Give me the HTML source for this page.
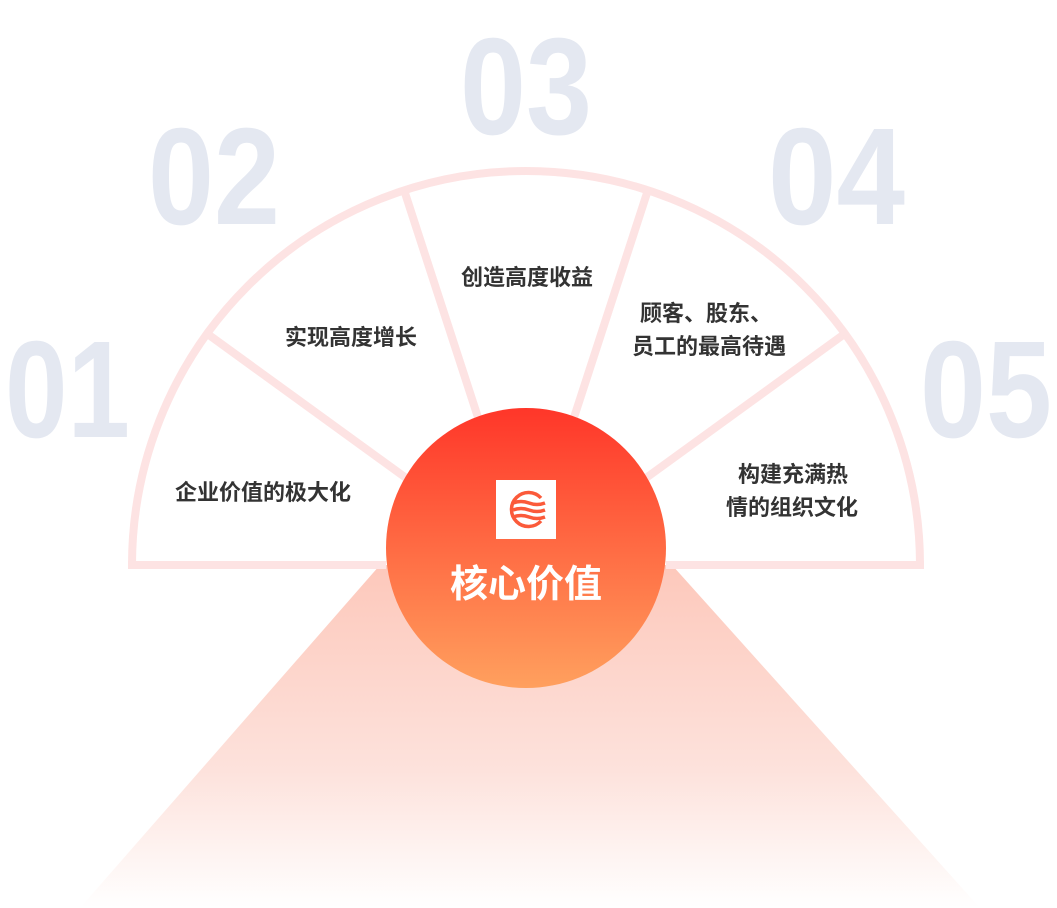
<!DOCTYPE html>
<html><head><meta charset="utf-8"><style>
html,body{margin:0;padding:0;background:#fff;width:1057px;height:908px;overflow:hidden}
</style></head><body>
<svg width="1057" height="908" viewBox="0 0 1057 908" xmlns="http://www.w3.org/2000/svg">
<defs>
<linearGradient id="cg" x1="0" y1="0" x2="0" y2="1">
<stop offset="0" stop-color="#ff3629"/><stop offset="1" stop-color="#ffa05e"/>
</linearGradient>
<linearGradient id="tg" x1="0" y1="0" x2="0" y2="1">
<stop offset="0" stop-color="#fdc8bb"/><stop offset="0.6" stop-color="#fde2dc"/><stop offset="1" stop-color="#ffffff"/>
</linearGradient>
</defs>
<g font-family="Liberation Sans, DejaVu Sans, sans-serif" font-weight="bold" fill="#e4e8f1" font-size="138">
<text x="5" y="437" textLength="125" lengthAdjust="spacingAndGlyphs">01</text>
<text x="148" y="224" textLength="132" lengthAdjust="spacingAndGlyphs">02</text>
<text x="460" y="134" textLength="132" lengthAdjust="spacingAndGlyphs">03</text>
<text x="768" y="224" textLength="137" lengthAdjust="spacingAndGlyphs">04</text>
<text x="920" y="437" textLength="132" lengthAdjust="spacingAndGlyphs">05</text>
</g>
<polygon points="380,565 672,565 980,908 80,908" fill="url(#tg)"/>
<g stroke="#fde3e3" stroke-width="8" fill="none">
<path d="M132,565 A394,394 0 0 1 920,565"/>
<line x1="128" y1="565" x2="386" y2="565"/>
<line x1="666" y1="565" x2="924" y2="565"/>
<line x1="526" y1="565" x2="209" y2="335"/>
<line x1="526" y1="565" x2="405" y2="193"/>
<line x1="526" y1="565" x2="647" y2="193"/>
<line x1="526" y1="565" x2="843" y2="335"/>
</g>
<circle cx="526" cy="548" r="140" fill="url(#cg)"/>
<rect x="496" y="480" width="60" height="59" fill="#fff"/>
<g fill="none" stroke="#fb5a3a" stroke-width="3.5">
<path d="M541,498 A17,17 0 1 0 541,521"/>
<path d="M513,503 q8,-3 16,0 t16,0"/>
<path d="M513,510 q8,-3 16,0 t16,0"/>
<path d="M513,517 q8,-3 16,0 t16,0"/>
</g>
<text x="526" y="597" text-anchor="middle" font-family="Liberation Sans, Noto Sans CJK SC, sans-serif" font-weight="bold" font-size="38" fill="#fff">核心价值</text>
<g font-family="Liberation Sans, Noto Sans CJK SC, sans-serif" font-weight="bold" font-size="22" fill="#333" text-anchor="middle">
<text x="263" y="500">企业价值的极大化</text>
<text x="351" y="345">实现高度增长</text>
<text x="527" y="285">创造高度收益</text>
<text x="706" y="321">顾客、股东、</text>
<text x="709" y="354">员工的最高待遇</text>
<text x="793" y="482">构建充满热</text>
<text x="792" y="515">情的组织文化</text>
</g>
</svg>
</body></html>
